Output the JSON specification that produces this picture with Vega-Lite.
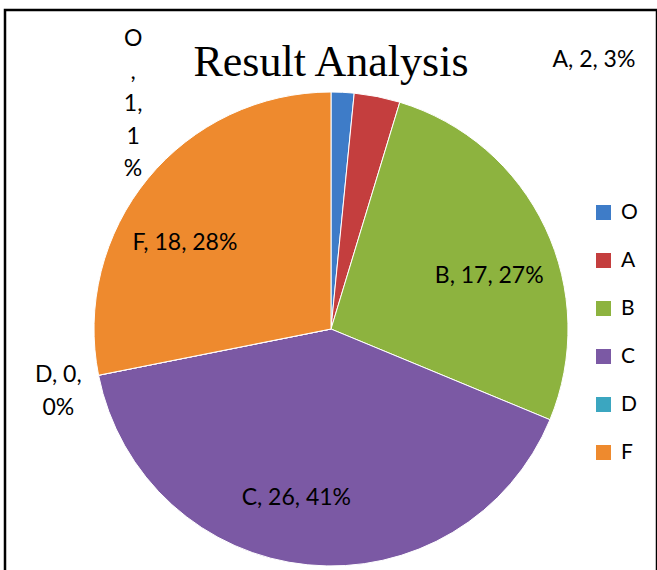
{
  "$schema": "https://vega.github.io/schema/vega-lite/v6.json",
  "autosize": {"type": "none"},
  "width": 652,
  "height": 638,
  "padding": {"left": 5, "top": 10, "right": 0, "bottom": -78},
  "background": "white",
  "view": {"stroke": "black", "strokeWidth": 2.5, "fill": "white"},
  "title": {
    "text": "Result Analysis",
    "font": "Liberation Serif",
    "fontSize": 44,
    "fontWeight": "normal",
    "color": "black",
    "anchor": "middle",
    "baseline": "alphabetic",
    "offset": -110
  },
  "data": {
    "values": [
      {"grade": "O", "count": 1, "label": "O\n,\n1,\n1\n%"},
      {"grade": "A", "count": 2, "label": "A, 2, 3%"},
      {"grade": "B", "count": 17, "label": "B, 17, 27%"},
      {"grade": "C", "count": 26, "label": "C, 26, 41%"},
      {"grade": "D", "count": 0, "label": "D, 0,\n0%"},
      {"grade": "F", "count": 18, "label": "F, 18, 28%"}
    ]
  },
  "transform": [
    {"calculate": "indexof(['O','A','B','C','D','F'], datum.grade)", "as": "ord"}
  ],
  "encoding": {
    "theta": {"field": "count", "type": "quantitative", "stack": true},
    "order": {"field": "ord", "type": "quantitative"}
  },
  "layer": [
    {
      "mark": {"type": "arc", "outerRadius": 237, "stroke": "white", "strokeWidth": 1},
      "encoding": {
        "color": {
          "field": "grade",
          "type": "nominal",
          "sort": ["O", "A", "B", "C", "D", "F"],
          "scale": {
            "domain": ["O", "A", "B", "C", "D", "F"],
            "range": ["#3E7CC8", "#C43E3E", "#8DB33F", "#7B59A4", "#3BA6C0", "#EE8A2E"]
          },
          "legend": {
            "title": null,
            "orient": "none",
            "legendX": 588,
            "legendY": 192,
            "symbolType": "square",
            "symbolSize": 225,
            "symbolStrokeWidth": 0,
            "labelFont": "Lato",
            "labelFontSize": 21,
            "labelColor": "black",
            "labelOffset": 7,
            "rowPadding": 26,
            "padding": 0
          }
        }
      }
    },
    {
      "mark": {"type": "text", "radius": 175, "dy": 22, "font": "Lato", "fontSize": 23, "color": "black"},
      "encoding": {"text": {"condition": {"test": "datum.grade === 'B'", "field": "label"}, "value": ""}}
    },
    {
      "mark": {"type": "text", "radius": 170, "dx": -18, "font": "Lato", "fontSize": 23, "color": "black"},
      "encoding": {"text": {"condition": {"test": "datum.grade === 'C'", "field": "label"}, "value": ""}}
    },
    {
      "mark": {"type": "text", "radius": 189, "dy": 34, "font": "Lato", "fontSize": 23, "color": "black"},
      "encoding": {"text": {"condition": {"test": "datum.grade === 'F'", "field": "label"}, "value": ""}}
    },
    {
      "mark": {"type": "text", "radius": 278, "dy": -8, "font": "Lato", "fontSize": 23, "color": "black", "lineBreak": "\n", "lineHeight": 33},
      "encoding": {"text": {"condition": {"test": "datum.grade === 'D'", "field": "label"}, "value": ""}}
    },
    {
      "mark": {"type": "text", "radius": 226, "dx": -209, "dy": -64, "font": "Lato", "fontSize": 23, "color": "black", "lineBreak": "\n", "lineHeight": 32.5},
      "encoding": {"text": {"condition": {"test": "datum.grade === 'O'", "field": "label"}, "value": ""}}
    },
    {
      "mark": {"type": "text", "radius": 274, "dx": 168, "align": "left", "font": "Lato", "fontSize": 23, "color": "black"},
      "encoding": {"text": {"condition": {"test": "datum.grade === 'A'", "field": "label"}, "value": ""}}
    }
  ]
}
